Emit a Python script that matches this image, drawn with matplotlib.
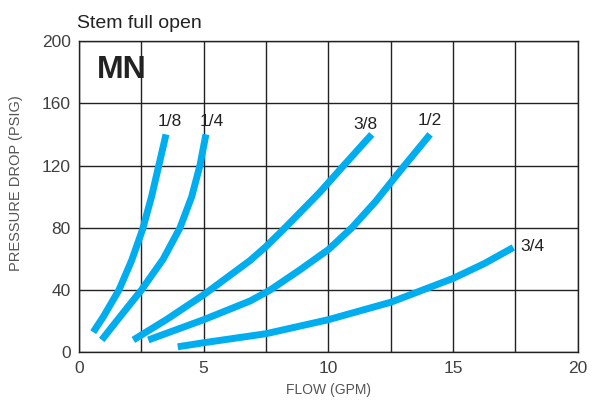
import matplotlib.pyplot as plt

plt.rcParams['font.family'] = ['Liberation Sans', 'DejaVu Sans']

# curve data (flow GPM, pressure drop PSIG)
flow_18 = [0.57, 0.98, 1.6, 2.11, 2.55, 2.91, 3.2, 3.49]
drop_18 = [13, 23, 40, 59, 79, 100, 120, 140]
flow_14 = [0.91, 1.65, 2.5, 3.38, 4.05, 4.52, 4.85, 5.09]
drop_14 = [8, 23, 40, 60, 80, 100, 120, 140]
flow_38 = [2.18, 3.5, 5.0, 6.86, 7.5, 8.2, 9.67, 10.67, 11.74]
drop_38 = [8, 21, 37, 59, 68, 79, 103, 121, 140]
flow_12 = [2.78, 5.0, 6.86, 7.66, 8.86, 10.0, 10.94, 11.9, 12.9, 14.08]
drop_12 = [8, 21, 33, 40, 53, 66, 80, 97, 117, 140]
flow_34 = [3.96, 5.0, 7.5, 10.0, 12.5, 15.0, 16.25, 17.42]
drop_34 = [3.6, 6.2, 12, 21, 32.2, 47.5, 57, 67.4]

curves = [
    ("1/8", flow_18, drop_18),
    ("1/4", flow_14, drop_14),
    ("3/8", flow_38, drop_38),
    ("1/2", flow_12, drop_12),
    ("3/4", flow_34, drop_34),
]

# label offsets from curve end, in points
label_offsets = {
    "1/8": (2.5, 9, 'center', 'center'),
    "1/4": (4, 9.5, 'center', 'center'),
    "3/8": (-4.5, 7.5, 'center', 'center'),
    "1/2": (0, 10, 'center', 'center'),
    "3/4": (5, 0.5, 'left', 'center'),
}

blue = '#00AEEF'
dark = '#222222'

fig = plt.figure(figsize=(6.03, 4.0), dpi=100)
ax = fig.add_axes([0.131, 0.119, 0.827, 0.7785])

for name, fx, fy in curves:
    ax.plot(fx, fy, color=blue, lw=5, solid_capstyle='butt', solid_joinstyle='round', zorder=3)
    dx, dy, ha, va = label_offsets[name]
    ax.annotate(name, (fx[-1], fy[-1]), xytext=(dx, dy), textcoords='offset points',
                fontsize=12.5, color=dark, ha=ha, va=va)

ax.set_xlim(0, 20)
ax.set_ylim(0, 200)
ax.set_xticks([0, 5, 10, 15, 20])
ax.set_xticks([2.5, 7.5, 12.5, 17.5], minor=True)
ax.set_yticks([0, 40, 80, 120, 160, 200])
ax.grid(True, which='both', axis='x', color=dark, lw=1)
ax.grid(True, which='major', axis='y', color=dark, lw=1)
ax.tick_params(which='both', length=0, labelsize=12.5, labelcolor='#404040', pad=6)
for s in ax.spines.values():
    s.set_color(dark)
    s.set_linewidth(1)

ax.set_xlabel("FLOW (GPM)", fontsize=10, color='#555555', labelpad=5)
ax.set_ylabel("PRESSURE DROP (PSIG)", fontsize=10.5, color='#555555', labelpad=8)
ax.yaxis.set_label_coords(-0.112, 0.545)

ax.text(-0.003, 1.03, "Stem full open", transform=ax.transAxes, fontsize=14, color=dark, ha='left', va='bottom')
ax.text(0.035, 0.955, "MN", transform=ax.transAxes, fontsize=23, fontweight='bold', color=dark, ha='left', va='top')

fig.savefig("out.png", dpi=100)
